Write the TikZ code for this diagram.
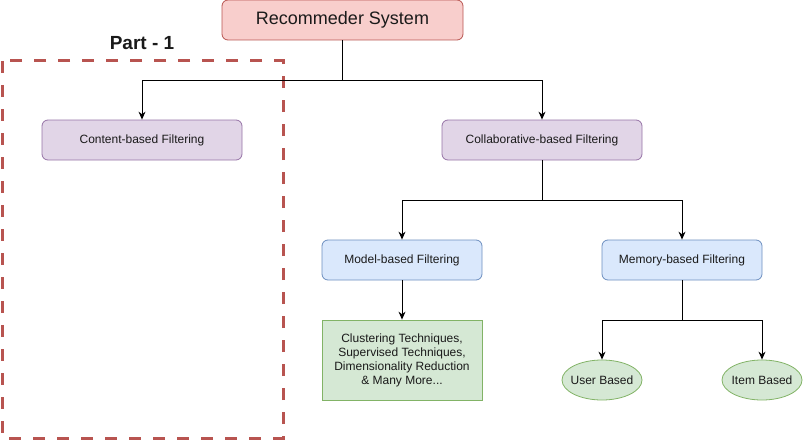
\documentclass[tikz,border=0pt]{standalone}
\usepackage{fontspec}
\setmainfont{Liberation Sans}
\usetikzlibrary{arrows.meta,shapes.geometric}
\definecolor{redfill}{HTML}{F8CECC}
\definecolor{redline}{HTML}{B85450}
\definecolor{purfill}{HTML}{E1D5E7}
\definecolor{purline}{HTML}{9673A6}
\definecolor{bluefill}{HTML}{DAE8FC}
\definecolor{blueline}{HTML}{6C8EBF}
\definecolor{grnfill}{HTML}{D5E8D4}
\definecolor{grnline}{HTML}{82B366}
\definecolor{txt}{HTML}{1A1A1A}
\tikzset{
  box/.style={draw, rounded corners=6pt, line width=0.8pt, inner sep=0pt, text=txt, font=\fontsize{12}{14}\selectfont},
  purbox/.style={box, fill=purfill, draw=purline, minimum width=200pt, minimum height=40pt},
  bluebox/.style={box, fill=bluefill, draw=blueline, minimum width=160pt, minimum height=40pt},
  ell/.style={ellipse, draw=grnline, fill=grnfill, line width=0.8pt, minimum width=80pt, minimum height=40pt, inner sep=0pt},
  elltext/.style={text=txt, font=\fontsize{12}{14}\selectfont},
  conn/.style={line width=0.9pt, draw=black},
  arr/.style={conn, -{Stealth[length=8pt,width=7pt]}}
}
\begin{document}
\begin{tikzpicture}[x=1pt,y=-1pt]
\useasboundingbox (0,0) rectangle (803,444);
% root
\node[box, fill=redfill, draw=redline, minimum width=241pt, minimum height=40pt, font=\fontsize{18}{20}\selectfont] (root) at (342.5,20) {\raisebox{-1.5pt}{Recommeder System}};
\node[font=\bfseries\fontsize{19}{22}\selectfont, text=txt] (part) at (142,43) {Part - 1};
\draw[redline, line width=3pt, dash pattern=on 12pt off 12pt] (2,61) rectangle (283,438);
\node[purbox] (content) at (142,140) {\raisebox{-1pt}{Content-based Filtering}};
\node[purbox] (collab) at (542,140) {\raisebox{-1pt}{Collaborative-based Filtering}};
\node[bluebox] (model) at (402,260) {\raisebox{-1pt}{Model-based Filtering}};
\node[bluebox] (memory) at (682,260) {\raisebox{-1pt}{Memory-based Filtering}};
\node[draw=grnline, fill=grnfill, line width=0.8pt, minimum width=160pt, minimum height=80pt, inner sep=0pt, text=txt, align=center, font=\fontsize{12}{14}\selectfont] (clust) at (402,360) {Clustering Techniques,\\Supervised Techniques,\\Dimensionality Reduction\\\& Many More...};
\node[ell, label={[elltext]center:User Based}] (user) at (602,380) {};
\node[ell, label={[elltext]center:Item Based}] (item) at (762,380) {};
% connectors
\coordinate (j1) at (342,80);
\draw[conn] (root.south -| j1) -- (j1);
\draw[arr] (j1) -| (content.north);
\draw[arr] (j1) -| (collab.north);
\coordinate (j2) at (542,200);
\draw[conn] (collab.south) -- (j2);
\draw[arr] (j2) -| (model.north);
\draw[arr] (j2) -| (memory.north);
\draw[arr] (model.south) -- (clust.north);
\coordinate (j3) at (682,320);
\draw[conn] (memory.south) -- (j3);
\draw[arr] (j3) -| (user.north);
\draw[arr] (j3) -| (item.north);
\end{tikzpicture}
\end{document}
